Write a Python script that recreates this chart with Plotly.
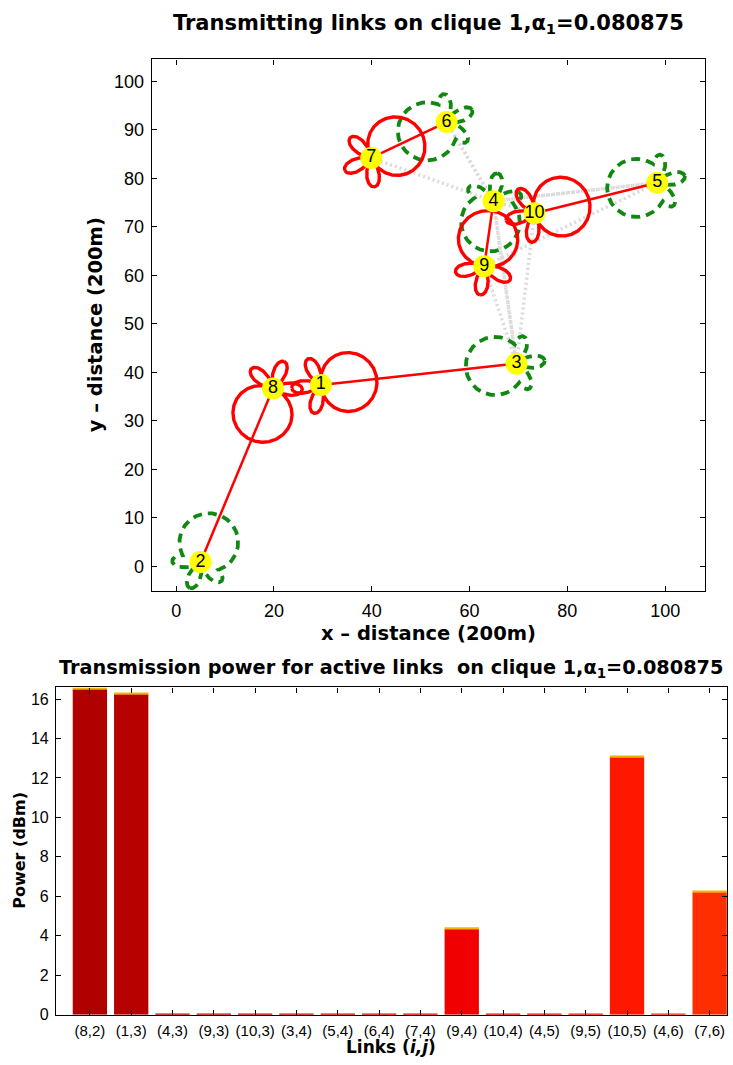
import numpy as np
import plotly.graph_objects as go

# ---------------- data ----------------
node_ids = [1, 2, 3, 4, 5, 6, 7, 8, 9, 10]
node_x = [29.6, 5.0, 69.6, 64.9, 98.4, 55.3, 39.9, 19.8, 63.0, 73.3]
node_y = [37.4, 0.9, 41.8, 75.3, 79.1, 91.6, 84.2, 36.7, 61.9, 72.8]

active_tx = [8, 1, 9, 10, 7]
active_rx = [2, 3, 4, 5, 6]

link_tx = [8, 1, 4, 9, 10, 3, 5, 6, 7, 9, 10, 4, 9, 10, 4, 7]
link_rx = [2, 3, 3, 3, 3, 4, 4, 4, 4, 4, 4, 5, 5, 5, 6, 6]
link_labels = ["(8,2)", "(1,3)", "(4,3)", "(9,3)", "(10,3)", "(3,4)", "(5,4)", "(6,4)",
               "(7,4)", "(9,4)", "(10,4)", "(4,5)", "(9,5)", "(10,5)", "(4,6)", "(7,6)"]
power_dbm = [16.5, 16.25, 0.05, 0.05, 0.05, 0.05, 0.05, 0.05,
             0.05, 4.35, 0.05, 0.05, 0.05, 13.05, 0.05, 6.2]

bar_colors = ["#B00000", "#B70000", "#BE0000", "#C50000", "#CC0000", "#D40000", "#DB0000", "#E20000",
              "#E90000", "#F00000", "#F70000", "#FE0000", "#FF0B00", "#FF1700", "#FF2200", "#FF2E00"]

# pattern shape parameters (data units)
TX_MAIN_D = 11.5
TX_PETAL = 6.0
RX_R = 6.0
RX_C = 4.4
RX_PETAL = 5.8

pos = {n: (x, y) for n, x, y in zip(node_ids, node_x, node_y)}


def petals(d, b):
    a0 = np.deg2rad(75)
    dd = np.mod(d, 2 * np.pi)
    out = np.zeros_like(dd)
    m = (dd >= a0) & (dd <= 2 * np.pi - a0)
    out[m] = b * np.abs(np.sin(3 * np.pi * (dd[m] - a0) / (2 * np.pi - 2 * a0)))
    return out


def tx_shape(n, target):
    x0, y0 = pos[n]
    x1, y1 = pos[target]
    phi = np.arctan2(y1 - y0, x1 - x0)
    d = np.linspace(-np.pi, np.pi, 721)
    main = TX_MAIN_D * np.clip(np.cos(d), 0, None) ** 0.85
    r = np.maximum(main, petals(d, TX_PETAL))
    return x0 + r * np.cos(phi + d), y0 + r * np.sin(phi + d)


def rx_shape(n, source):
    x0, y0 = pos[n]
    x1, y1 = pos[source]
    phi = np.arctan2(y1 - y0, x1 - x0)
    d = np.linspace(-np.pi, np.pi, 721)
    main = RX_C * np.cos(d) + np.sqrt(RX_R ** 2 - (RX_C * np.sin(d)) ** 2)
    r = np.maximum(main, petals(d, RX_PETAL))
    return x0 + r * np.cos(phi + d), y0 + r * np.sin(phi + d)


fig = go.Figure()

# inactive links (gray dotted)
active_pairs = set(zip(active_tx, active_rx))
for t, r in zip(link_tx, link_rx):
    if (t, r) in active_pairs:
        continue
    fig.add_trace(go.Scatter(x=[pos[t][0], pos[r][0]], y=[pos[t][1], pos[r][1]], mode="lines",
                             line=dict(color="#DADADA", width=3.5, dash="2px,3px"),
                             xaxis="x", yaxis="y", showlegend=False, hoverinfo="skip"))

# receiver patterns (green dashed)
for t, r in zip(active_tx, active_rx):
    px, py = rx_shape(r, t)
    fig.add_trace(go.Scatter(x=px, y=py, mode="lines",
                             line=dict(color="#118811", width=3.8, dash="9px,6px"),
                             xaxis="x", yaxis="y", showlegend=False, hoverinfo="skip"))

# transmitter patterns (red)
for t, r in zip(active_tx, active_rx):
    px, py = tx_shape(t, r)
    fig.add_trace(go.Scatter(x=px, y=py, mode="lines",
                             line=dict(color="#FF0000", width=3.4),
                             xaxis="x", yaxis="y", showlegend=False, hoverinfo="skip"))

# active links
for t, r in zip(active_tx, active_rx):
    fig.add_trace(go.Scatter(x=[pos[t][0], pos[r][0]], y=[pos[t][1], pos[r][1]], mode="lines",
                             line=dict(color="#FF0000", width=2.5),
                             xaxis="x", yaxis="y", showlegend=False, hoverinfo="skip"))

# nodes
fig.add_trace(go.Scatter(x=node_x, y=node_y, mode="markers+text",
                         marker=dict(size=22, color="#FFFF00", line=dict(width=0)),
                         text=[str(n) for n in node_ids], textposition="middle center",
                         textfont=dict(size=18, color="black", family="Liberation Sans, Arial"),
                         xaxis="x", yaxis="y", showlegend=False, hoverinfo="skip"))

# bars
bar_x = list(range(1, len(link_labels) + 1))
fig.add_trace(go.Bar(x=bar_x, y=power_dbm, marker=dict(color=bar_colors, line=dict(width=0)),
                     width=0.83, xaxis="x2", yaxis="y2", showlegend=False))
cap = [0.08 if p > 1 else 0 for p in power_dbm]
fig.add_trace(go.Bar(x=bar_x, y=cap, base=power_dbm, marker=dict(color="#F2B400", line=dict(width=0)),
                     width=0.83, xaxis="x2", yaxis="y2", showlegend=False))

W, H = 733, 1065
sans = "Liberation Sans, Arial"
bold = "DejaVu Sans, Liberation Sans"
tick_font = dict(family=sans, size=18, color="black")

axis_common = dict(showline=True, linecolor="black", linewidth=1.2, mirror="ticks",
                   ticks="inside", ticklen=5, tickcolor="black", showgrid=False, zeroline=False)

fig.update_layout(
    width=W, height=H, margin=dict(l=0, r=0, t=0, b=0),
    paper_bgcolor="white", plot_bgcolor="white", barmode="overlay",
    xaxis=dict(domain=[151.7 / W, 705 / W], range=[-5, 108.15], tickvals=[0, 20, 40, 60, 80, 100],
               tickfont=tick_font, anchor="y", ticklabelstandoff=4, **axis_common),
    yaxis=dict(domain=[1 - 595.7 / H, 1 - 60 / H], range=[-5, 104.5], tickvals=list(range(0, 101, 10)),
               tickfont=tick_font, anchor="x", ticklabelstandoff=3, **axis_common),
    xaxis2=dict(domain=[56 / W, 727 / W], range=[0.18, 16.42], tickvals=bar_x, ticktext=link_labels,
                tickfont=dict(family=sans, size=15, color="black"), anchor="y2",
                ticklabelstandoff=2, **axis_common),
    yaxis2=dict(domain=[1 - 1023.3 / H, 1 - 693.3 / H], range=[0, 16.59], tickvals=list(range(0, 17, 2)),
                tickfont=dict(family=sans, size=16, color="black"), anchor="x2",
                ticklabelstandoff=3, **axis_common),
)

ann = [
    ("Transmitting links on clique 1,α<sub>1</sub>=0.080875", 428, 24, 21, 0),
    ("x – distance (200m)", 428, 639, 19.5, 0),
    ("y – distance (200m)", 95, 328, 19.5, -90),
    ("Transmission power for active links  on clique 1,α<sub>1</sub>=0.080875", 391, 674, 19.3, 0),
    ("Power (dBm)", 20, 858, 16, -90),
    ("Links (<i>i,j</i>)", 391, 1056, 17, 0),
]
for text, x, y, s, ang in ann:
    fig.add_annotation(text="<b>" + text + "</b>", x=x / W, y=1 - y / H, xref="paper", yref="paper",
                       xanchor="center", yanchor="middle", showarrow=False, textangle=ang,
                       font=dict(family=bold, size=s, color="black"))

fig.write_html("out.html")
